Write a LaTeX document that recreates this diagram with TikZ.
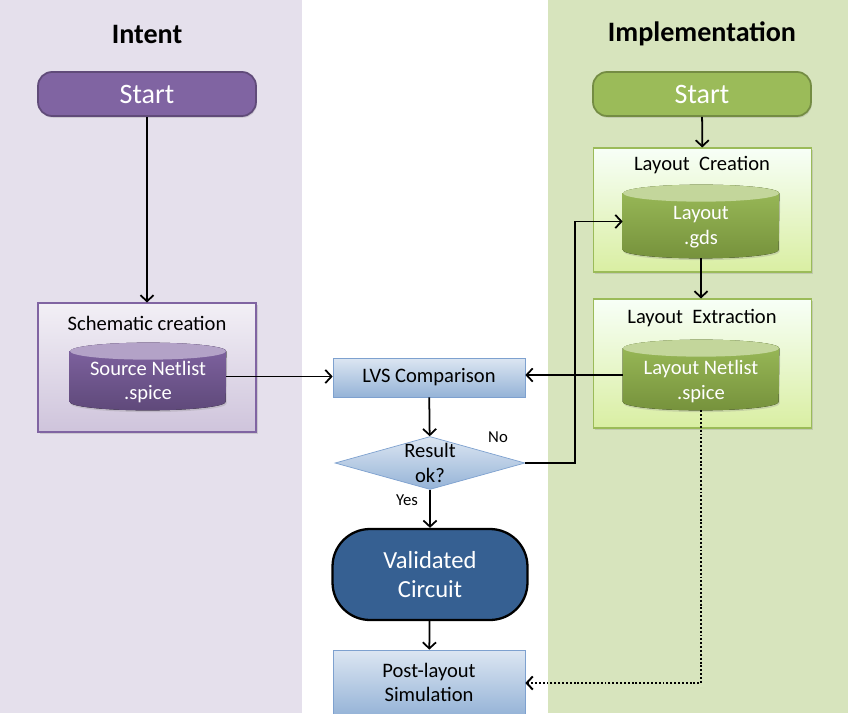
\documentclass[tikz,border=0pt]{standalone}
\usepackage{fontspec}
\setmainfont{Carlito}
\usetikzlibrary{arrows.meta, shapes.geometric, shadows}
\definecolor{intentbg}{HTML}{E5E0EC}
\definecolor{implbg}{HTML}{D7E4BD}
\definecolor{violetmain}{HTML}{8064A2}
\definecolor{violetdark}{HTML}{5F497A}
\definecolor{violetend}{HTML}{B3A2C7}
\definecolor{greenmain}{HTML}{9BBB59}
\definecolor{greendark}{HTML}{76923C}
\definecolor{greenend}{HTML}{C3D69B}
\definecolor{bluetop}{HTML}{DCE6F2}
\definecolor{bluebot}{HTML}{95B3D7}
\definecolor{blueline}{HTML}{7EA1CF}
\definecolor{validblue}{HTML}{366092}
\tikzset{
    startbox/.style={rounded corners=0.28cm, minimum width=4.36cm, minimum height=0.88cm, text=white, font=\fontsize{16}{18}\selectfont, line width=1pt, drop shadow={opacity=0.25, shadow xshift=0.5pt, shadow yshift=-1pt}}, % start terminals
    stagebox/.style={rectangle, minimum width=4.36cm, line width=0.6pt, drop shadow={opacity=0.25, shadow xshift=1pt, shadow yshift=-1pt}}, % outer stage boxes
    netfile/.style={rectangle, minimum width=3.12cm, inner sep=0pt}, % place of a database cylinder
    filetext/.style={text=white, align=center}, % text on the cylinders
    stepbox/.style={rectangle, draw=blueline, top color=bluetop, bottom color=bluebot, minimum width=3.84cm, align=center}, % light blue process boxes
    arr/.style={-{Straight Barb[length=3.5pt, width=7.5pt]}, line width=1pt},
    dotarr/.style={arr, dash pattern=on 1.1pt off 1.1pt, line width=1.1pt}
}
% cylinder drawn over a netfile node: name, top colour, bottom colour, lid colour
\newcommand{\netcyl}[4]{%
    \fill[top color=#2, bottom color=#3, drop shadow={opacity=0.25, shadow xshift=0.5pt, shadow yshift=-1pt}]
        ([yshift=-0.17cm]#1.north west) -- ([yshift=0.17cm]#1.south west)
        arc[start angle=180, end angle=360, x radius=1.56cm, y radius=0.17cm]
        -- ([yshift=-0.17cm]#1.north east)
        arc[start angle=0, end angle=180, x radius=1.56cm, y radius=0.17cm] -- cycle;
    \fill[#4] ([yshift=-0.17cm]#1.north) ellipse [x radius=1.56cm, y radius=0.17cm];
}
\begin{document}
\begin{tikzpicture}[x=0.02cm, y=-0.02cm, font=\fontsize{11.7}{14}\selectfont]
    \useasboundingbox (0,0) rectangle (848,713);
    \clip (0,0) rectangle (848,713);

    % lanes
    \fill[intentbg] (0,0) rectangle (302,713);
    \fill[implbg] (548,0) rectangle (848,713);
    \node[font=\fontsize{16}{18}\selectfont\bfseries] (intent) at (147,34) {Intent};
    \node[font=\fontsize{16}{18}\selectfont\bfseries] (impl) at (702,34) {Implementation};

    % intent side
    \node[startbox, fill=violetmain, draw=violetmain!75!black] (startL) at (147,94) {Start};
    \node[stagebox, draw=violetmain, top color=violetmain!10, bottom color=violetmain!38, minimum height=2.58cm] (schem) at (147,367.5) {};
    \node (schemtitle) at (147,323) {Schematic creation};
    \node[netfile, minimum height=1.34cm] (src) at (148,376.5) {};
    \netcyl{src}{violetmain}{violetdark}{violetend}
    \node[filetext] (srctext) at (148,382) {Source Netlist\\.spice};

    % implementation side
    \node[startbox, fill=greenmain, draw=greenmain!75!black] (startR) at (702,94) {Start};
    \node[stagebox, draw=greenmain, top color=green!3!white, bottom color=lime!45!greenmain!45!white, minimum height=2.48cm] (create) at (702.5,210) {};
    \node (createtitle) at (702,165) {Layout\ \ Creation};
    \node[netfile, minimum height=1.46cm] (gds) at (701,221.5) {};
    \netcyl{gds}{greenmain}{greendark}{greenend}
    \node[filetext] (gdstext) at (701,227) {Layout\\.gds};
    \node[stagebox, draw=greenmain, top color=green!3!white, bottom color=lime!45!greenmain!45!white, minimum height=2.58cm] (extract) at (702.5,363.5) {};
    \node (extracttitle) at (702,318) {Layout\ \ Extraction};
    \node[netfile, minimum height=1.4cm] (net) at (701,375) {};
    \netcyl{net}{greenmain}{greendark}{greenend}
    \node[filetext] (nettext) at (701,381.5) {Layout Netlist\\.spice};

    % comparison flow
    \node[stepbox, minimum height=0.78cm] (lvs) at (429,377.5) {LVS Comparison};
    \node[diamond, aspect=3.6, draw=blueline, top color=bluetop, bottom color=bluebot, minimum width=3.8cm, minimum height=1.06cm, inner sep=-1pt, align=center] (check) at (430,463) {Result\\ok?};
    \node[rounded corners=0.75cm, draw=black, line width=1.3pt, fill=validblue, text=white, minimum width=3.9cm, minimum height=1.82cm, align=center, font=\fontsize{14}{17}\selectfont] (valid) at (430,574.5) {Validated\\Circuit};
    \node[stepbox, minimum height=1.32cm] (post) at (429,683) {};
    \node[align=center] (posttext) at (429,682.5) {Post-layout\\Simulation};
    \node[font=\fontsize{9.5}{11}\selectfont] (no) at (498,437) {No};
    \node[font=\fontsize{9.5}{11}\selectfont] (yes) at (407,500) {Yes};

    % connectors
    \draw[arr] (startL) -- (schem);
    \draw[arr] (src.east) -- (src.east -| lvs.west);
    \draw[arr] (startR) -- (create);
    \draw[arr] (gds.south) -- (gds.south |- extract.north);
    \draw[arr] (net.west) -- (net.west -| lvs.east);
    \draw[arr] (lvs) -- (check);
    \draw[arr] (check.east) -- ++(50,0) |- (gds.west);
    \draw[arr] (check) -- (valid);
    \draw[arr] (valid) -- (post);
    \draw[dotarr] (net.south) |- (post.east);
\end{tikzpicture}
\end{document}
